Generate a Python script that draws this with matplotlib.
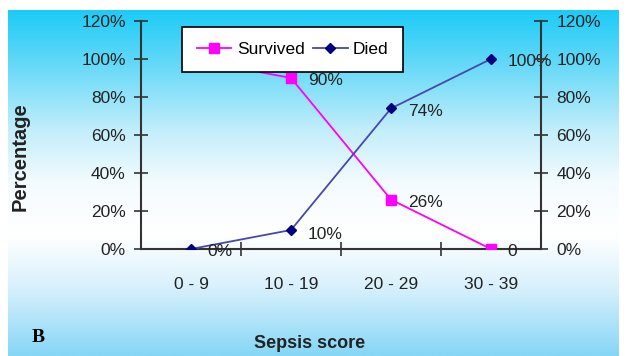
import numpy as np
import matplotlib.pyplot as plt
from matplotlib.colors import LinearSegmentedColormap

# datos
categorias = ['0 - 9', '10 - 19', '20 - 29', '30 - 39']
sobrevivio = [100, 90, 26, 0]
murio = [0, 10, 74, 100]
etiq_sobrevivio = [None, '90%', '26%', '0']
etiq_murio = ['0%', '10%', '74%', '100%']

plt.rcParams['font.family'] = ['Liberation Sans', 'DejaVu Sans']

fig = plt.figure(figsize=(6.27, 3.56), dpi=100)

# fondo degradado
fondo = fig.add_axes([8 / 627, 0, 611 / 627, 1 - 10 / 356], zorder=-10)
cmap = LinearSegmentedColormap.from_list('fondo', [
    (0.0, '#1ccbf6'), (0.15, '#62d8f8'), (0.35, '#c4eefb'), (0.5, '#f4fbfe'),
    (0.65, '#ffffff'), (0.8, '#d9f1fc'), (1.0, '#86d6f6')])
grad = np.linspace(0, 1, 256).reshape(-1, 1)
fondo.imshow(grad, aspect='auto', cmap=cmap, extent=[0, 1, 0, 1], origin='upper')
fondo.axis('off')

ax = fig.add_axes([141 / 627, 1 - 249 / 356, 400 / 627, 228 / 356])
ax.patch.set_alpha(0)
x = np.arange(len(categorias)) + 0.5

ax.plot(x, sobrevivio, color='#ff00ff', lw=1.3, marker='s', ms=7,
        mfc='#ff00ff', mec='#ff00ff', label='Survived', zorder=3)
ax.plot(x, murio, color='#4848a8', lw=1.3, marker='D', ms=5.5,
        mfc='#000080', mec='#000080', label='Died', zorder=3)

for xi, v, t in zip(x, sobrevivio, etiq_sobrevivio):
    if t:
        ax.annotate(t, (xi, v), xytext=(12, -2), textcoords='offset points',
                    va='center', ha='left', fontsize=12.5, color='#222222')
for xi, v, t in zip(x, murio, etiq_murio):
    dy = -3 if v == 10 else -2
    ax.annotate(t, (xi, v), xytext=(12, dy), textcoords='offset points',
                va='center', ha='left', fontsize=12.5, color='#222222')

ax.set_xlim(0, 4)
ax.set_ylim(0, 120)
ax.set_yticks(range(0, 121, 20))
ax.set_yticklabels([f'{v}%' for v in range(0, 121, 20)], fontsize=12.5, color='#222222')
ax.set_xticks([1, 2, 3])
ax.set_xticklabels([])
ax.set_xticks(x, minor=True)
ax.set_xticklabels(categorias, minor=True, fontsize=12.5, color='#222222')
ax.tick_params(axis='x', which='minor', length=0, pad=20)
ax.tick_params(axis='x', which='major', direction='inout', length=10, width=1.2, color='#333333')
ax.tick_params(axis='y', direction='inout', length=10, width=1.2, color='#333333', pad=6)

for s in ['top', 'right']:
    ax.spines[s].set_visible(False)
ax.spines['left'].set_color('#333333')
ax.spines['bottom'].set_color('#333333')
ax.spines['left'].set_linewidth(1.5)
ax.spines['bottom'].set_linewidth(1.5)

ax2 = ax.twinx()
ax2.set_ylim(0, 120)
ax2.set_yticks(range(0, 121, 20))
ax2.set_yticklabels([f'{v}%' for v in range(0, 121, 20)], fontsize=12.5, color='#222222')
ax2.tick_params(axis='y', direction='inout', length=10, width=1.2, color='#333333', pad=6)
for s in ['top', 'left', 'bottom']:
    ax2.spines[s].set_visible(False)
ax2.spines['right'].set_color('#333333')
ax2.spines['right'].set_linewidth(1.5)

# leyenda encima de la linea (tapa el primer punto como en el original)
leg = ax2.legend(*ax.get_legend_handles_labels(), loc='upper left',
                 bbox_to_anchor=(41 / 400, 1 - 6 / 228), borderaxespad=0, ncol=2,
                 fontsize=12.5, frameon=True, fancybox=False, framealpha=1,
                 edgecolor='black', handlelength=2.0, columnspacing=0.5,
                 handletextpad=0.3, borderpad=0.85)
leg.get_frame().set_linewidth(1.2)
leg.set_zorder(5)

fig.text(20 / 627, 1 - 157 / 356, 'Percentage', rotation=90, ha='center', va='center',
         fontsize=14.5, fontweight='bold', color='#222222')
fig.text(310 / 627, 1 - 343 / 356, 'Sepsis score', ha='center', va='center',
         fontsize=13, fontweight='bold', color='#222222')
fig.text(38 / 627, 1 - 337 / 356, 'B', ha='center', va='center',
         fontsize=14, fontweight='bold', family='Liberation Serif', color='black')

fig.savefig('out.png', dpi=100)
